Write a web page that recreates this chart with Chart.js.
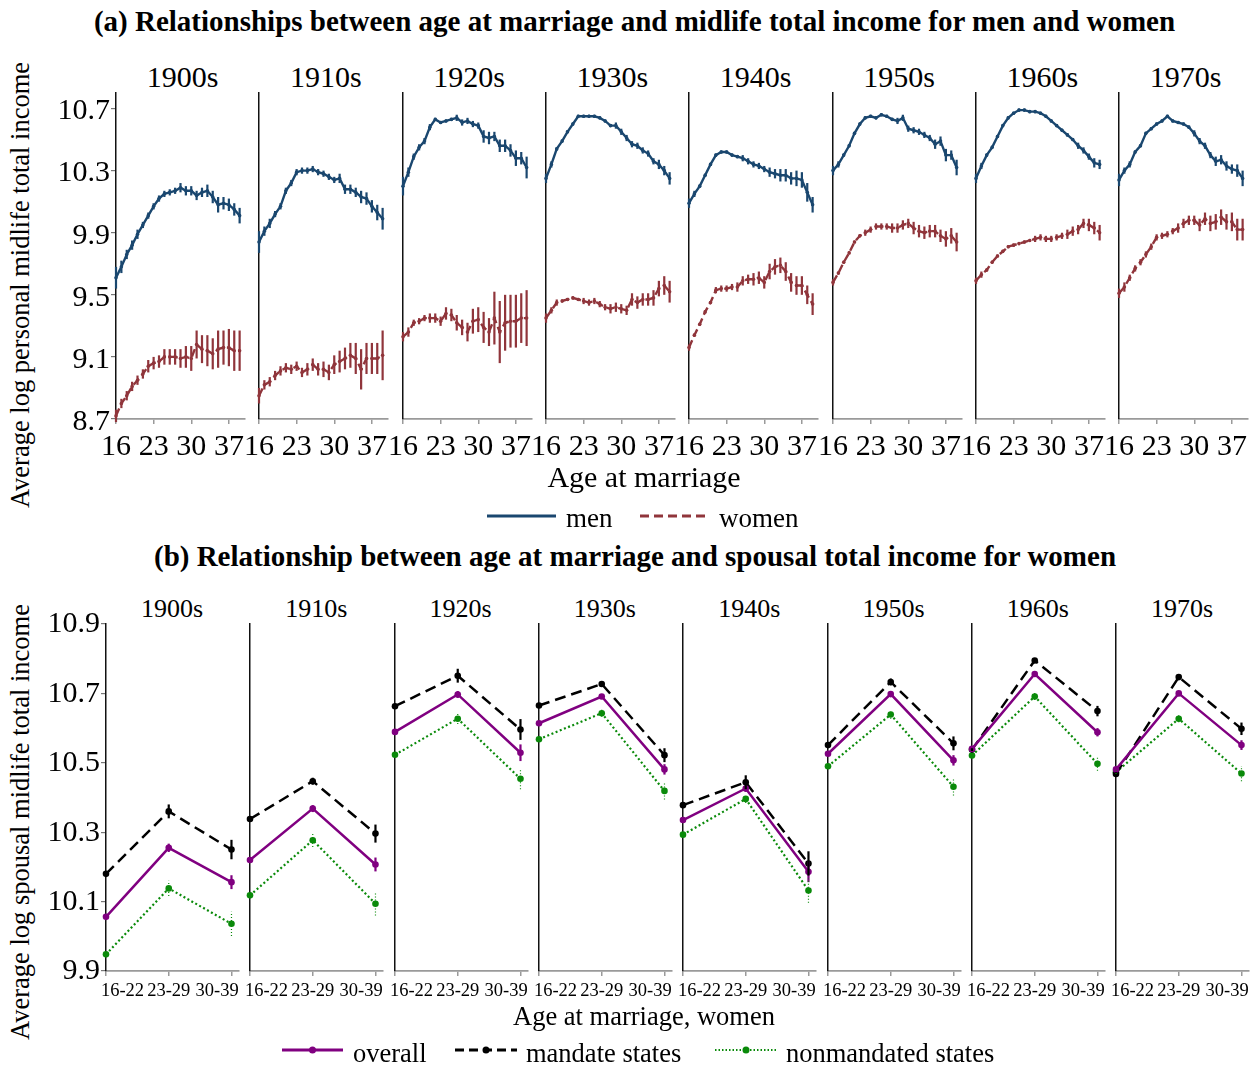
<!DOCTYPE html>
<html>
<head>
<meta charset="utf-8">
<script src="https://cdn.jsdelivr.net/npm/chart.js@4.4.1/dist/chart.umd.min.js"></script>
<style>
  body { margin: 0; background: #fff; }
  #page { position: relative; width: 1256px; height: 1068px; background: #fff; overflow: hidden; font-family: "Liberation Serif", "Times New Roman", serif; color: #000; }
  #page canvas { position: absolute; }
  .txt { position: absolute; white-space: nowrap; line-height: 1; transform: translate(-50%, -50%); }
  .lft { position: absolute; white-space: nowrap; line-height: 1; transform: translate(0, -50%); }
</style>
</head>
<body>
<div id="page"></div>
<script>
// ---- data: panel (a) ----
const decades = ['1900s', '1910s', '1920s', '1930s', '1940s', '1950s', '1960s', '1970s'];
const ages = [16, 17, 18, 19, 20, 21, 22, 23, 24, 25, 26, 27, 28, 29, 30, 31, 32, 33, 34, 35, 36, 37, 38, 39];
const topXTicks = [16, 23, 30, 37];
const topYTicks = [8.7, 9.1, 9.5, 9.9, 10.3, 10.7];

const men1900 = [9.61, 9.68, 9.76, 9.82, 9.89, 9.95, 10.01, 10.07, 10.12, 10.15, 10.16, 10.17, 10.19, 10.17, 10.17, 10.14, 10.16, 10.17, 10.13, 10.08, 10.09, 10.08, 10.05, 10.01];
const women1900 = [8.72, 8.80, 8.85, 8.91, 8.95, 8.99, 9.04, 9.06, 9.07, 9.10, 9.10, 9.10, 9.09, 9.10, 9.09, 9.18, 9.15, 9.14, 9.12, 9.15, 9.16, 9.16, 9.14, 9.14];
const men1910 = [9.84, 9.91, 9.96, 10.02, 10.07, 10.17, 10.22, 10.29, 10.30, 10.30, 10.31, 10.29, 10.28, 10.26, 10.24, 10.25, 10.18, 10.18, 10.16, 10.13, 10.12, 10.07, 10.03, 9.99];
const women1910 = [8.85, 8.92, 8.94, 8.98, 9.01, 9.03, 9.02, 9.04, 9.00, 9.02, 9.05, 9.02, 9.02, 9.00, 9.05, 9.07, 9.09, 9.11, 9.09, 9.02, 9.09, 9.09, 9.09, 9.11];
const men1920 = [10.20, 10.29, 10.39, 10.45, 10.49, 10.58, 10.63, 10.61, 10.62, 10.63, 10.64, 10.61, 10.62, 10.60, 10.59, 10.52, 10.51, 10.52, 10.46, 10.46, 10.43, 10.38, 10.38, 10.32];
const women1920 = [9.23, 9.26, 9.32, 9.33, 9.35, 9.35, 9.35, 9.33, 9.38, 9.37, 9.32, 9.29, 9.26, 9.33, 9.34, 9.29, 9.26, 9.35, 9.26, 9.32, 9.33, 9.33, 9.35, 9.35];
const men1930 = [10.25, 10.34, 10.44, 10.49, 10.55, 10.60, 10.65, 10.65, 10.65, 10.65, 10.64, 10.62, 10.59, 10.59, 10.55, 10.51, 10.47, 10.46, 10.43, 10.41, 10.36, 10.34, 10.30, 10.25];
const women1930 = [9.35, 9.40, 9.45, 9.46, 9.47, 9.48, 9.47, 9.46, 9.45, 9.46, 9.44, 9.42, 9.41, 9.42, 9.41, 9.40, 9.47, 9.45, 9.47, 9.47, 9.48, 9.54, 9.56, 9.52];
const men1940 = [10.09, 10.15, 10.20, 10.27, 10.34, 10.40, 10.42, 10.42, 10.40, 10.39, 10.38, 10.36, 10.34, 10.33, 10.31, 10.29, 10.28, 10.27, 10.27, 10.25, 10.25, 10.24, 10.16, 10.08];
const women1940 = [9.16, 9.24, 9.31, 9.39, 9.45, 9.53, 9.54, 9.54, 9.55, 9.55, 9.59, 9.60, 9.60, 9.61, 9.58, 9.65, 9.68, 9.69, 9.65, 9.58, 9.56, 9.56, 9.50, 9.44];
const men1950 = [10.30, 10.34, 10.40, 10.46, 10.54, 10.60, 10.64, 10.65, 10.64, 10.66, 10.65, 10.63, 10.62, 10.64, 10.57, 10.56, 10.55, 10.53, 10.51, 10.47, 10.49, 10.40, 10.40, 10.32];
const women1950 = [9.58, 9.64, 9.71, 9.77, 9.84, 9.88, 9.90, 9.92, 9.94, 9.94, 9.94, 9.93, 9.93, 9.95, 9.96, 9.93, 9.91, 9.90, 9.91, 9.91, 9.88, 9.86, 9.88, 9.84];
const men1960 = [10.25, 10.33, 10.40, 10.45, 10.52, 10.59, 10.64, 10.67, 10.69, 10.69, 10.68, 10.68, 10.67, 10.65, 10.62, 10.59, 10.56, 10.53, 10.50, 10.46, 10.43, 10.39, 10.35, 10.34];
const women1960 = [9.59, 9.63, 9.66, 9.71, 9.75, 9.78, 9.81, 9.82, 9.83, 9.84, 9.85, 9.86, 9.87, 9.86, 9.86, 9.87, 9.88, 9.89, 9.91, 9.92, 9.96, 9.95, 9.93, 9.90];
const men1970 = [10.24, 10.30, 10.34, 10.42, 10.46, 10.54, 10.57, 10.60, 10.62, 10.65, 10.62, 10.61, 10.60, 10.58, 10.54, 10.49, 10.46, 10.40, 10.36, 10.37, 10.33, 10.31, 10.30, 10.25];
const women1970 = [9.51, 9.55, 9.61, 9.67, 9.71, 9.76, 9.81, 9.87, 9.88, 9.89, 9.91, 9.93, 9.96, 9.98, 9.98, 9.95, 9.99, 9.96, 9.97, 10.00, 9.97, 9.97, 9.92, 9.92];

// half-widths of the confidence bars
const menErr1900 = [0.07, 0.04, 0.03, 0.03, 0.03, 0.02, 0.02, 0.02, 0.02, 0.02, 0.02, 0.02, 0.03, 0.03, 0.03, 0.03, 0.03, 0.04, 0.04, 0.05, 0.04, 0.04, 0.04, 0.05];
const womenErr1900 = [0.04, 0.03, 0.03, 0.03, 0.03, 0.03, 0.04, 0.04, 0.04, 0.05, 0.05, 0.05, 0.06, 0.07, 0.08, 0.09, 0.09, 0.10, 0.10, 0.12, 0.11, 0.12, 0.13, 0.13];
const menErr1910 = [0.07, 0.03, 0.03, 0.02, 0.02, 0.02, 0.02, 0.02, 0.02, 0.02, 0.02, 0.02, 0.02, 0.02, 0.02, 0.03, 0.03, 0.03, 0.03, 0.04, 0.04, 0.04, 0.05, 0.07];
const womenErr1910 = [0.05, 0.03, 0.03, 0.03, 0.03, 0.03, 0.03, 0.03, 0.03, 0.04, 0.04, 0.04, 0.05, 0.05, 0.06, 0.07, 0.07, 0.08, 0.10, 0.13, 0.10, 0.10, 0.10, 0.16];
const menErr1920 = [0.06, 0.03, 0.02, 0.02, 0.02, 0.02, 0.01, 0.01, 0.01, 0.01, 0.02, 0.02, 0.02, 0.02, 0.02, 0.04, 0.04, 0.03, 0.04, 0.04, 0.04, 0.05, 0.04, 0.07];
const womenErr1920 = [0.03, 0.03, 0.02, 0.02, 0.02, 0.03, 0.03, 0.03, 0.04, 0.04, 0.05, 0.05, 0.06, 0.08, 0.08, 0.10, 0.09, 0.17, 0.20, 0.18, 0.17, 0.17, 0.16, 0.18];
const menErr1930 = [0.03, 0.02, 0.01, 0.01, 0.01, 0.01, 0.01, 0.01, 0.01, 0.01, 0.01, 0.01, 0.01, 0.02, 0.02, 0.02, 0.02, 0.02, 0.02, 0.02, 0.02, 0.03, 0.03, 0.04];
const womenErr1930 = [0.03, 0.02, 0.02, 0.01, 0.01, 0.01, 0.01, 0.02, 0.02, 0.02, 0.02, 0.02, 0.03, 0.03, 0.03, 0.03, 0.04, 0.04, 0.04, 0.04, 0.05, 0.05, 0.06, 0.07];
const menErr1940 = [0.03, 0.02, 0.01, 0.01, 0.01, 0.01, 0.01, 0.01, 0.01, 0.01, 0.02, 0.02, 0.02, 0.02, 0.02, 0.03, 0.03, 0.04, 0.04, 0.04, 0.05, 0.05, 0.06, 0.05];
const womenErr1940 = [0.02, 0.01, 0.01, 0.01, 0.01, 0.02, 0.02, 0.02, 0.02, 0.03, 0.03, 0.03, 0.04, 0.04, 0.04, 0.05, 0.05, 0.05, 0.06, 0.06, 0.06, 0.06, 0.06, 0.07];
const menErr1950 = [0.03, 0.02, 0.01, 0.01, 0.01, 0.01, 0.01, 0.01, 0.01, 0.01, 0.01, 0.01, 0.02, 0.02, 0.02, 0.02, 0.02, 0.02, 0.02, 0.03, 0.03, 0.04, 0.03, 0.05];
const womenErr1950 = [0.02, 0.01, 0.01, 0.01, 0.01, 0.01, 0.02, 0.02, 0.02, 0.02, 0.02, 0.03, 0.03, 0.03, 0.03, 0.04, 0.04, 0.04, 0.04, 0.04, 0.04, 0.05, 0.05, 0.06];
const menErr1960 = [0.03, 0.02, 0.01, 0.01, 0.01, 0.01, 0.01, 0.01, 0.01, 0.01, 0.01, 0.01, 0.01, 0.01, 0.01, 0.01, 0.01, 0.01, 0.01, 0.02, 0.02, 0.02, 0.03, 0.03];
const womenErr1960 = [0.02, 0.02, 0.01, 0.01, 0.01, 0.01, 0.01, 0.01, 0.01, 0.01, 0.01, 0.02, 0.02, 0.02, 0.02, 0.02, 0.02, 0.03, 0.03, 0.03, 0.03, 0.04, 0.04, 0.05];
const menErr1970 = [0.04, 0.02, 0.02, 0.01, 0.01, 0.01, 0.01, 0.01, 0.01, 0.01, 0.01, 0.01, 0.01, 0.01, 0.02, 0.02, 0.02, 0.02, 0.03, 0.03, 0.03, 0.03, 0.04, 0.05];
const womenErr1970 = [0.03, 0.03, 0.02, 0.02, 0.02, 0.02, 0.02, 0.02, 0.02, 0.02, 0.02, 0.03, 0.03, 0.03, 0.03, 0.04, 0.04, 0.05, 0.05, 0.05, 0.05, 0.06, 0.07, 0.07];

// ---- data: panel (b) ----
const groups = ['16-22', '23-29', '30-39'];
const bottomYTicks = [9.9, 10.1, 10.3, 10.5, 10.7, 10.9];
// one row per decade, 1900s .. 1970s
const overall = [
  [10.056, 10.255, 10.156], [10.220, 10.368, 10.207], [10.589, 10.697, 10.529], [10.614, 10.691, 10.481],
  [10.335, 10.426, 10.186], [10.526, 10.698, 10.507], [10.540, 10.756, 10.588], [10.481, 10.700, 10.551]
];
const mandate = [
  [10.180, 10.360, 10.250], [10.338, 10.447, 10.296], [10.663, 10.751, 10.596], [10.665, 10.727, 10.522],
  [10.378, 10.444, 10.210], [10.551, 10.733, 10.556], [10.538, 10.795, 10.649], [10.468, 10.747, 10.598]
];
const nonmandated = [
  [9.948, 10.138, 10.036], [10.118, 10.277, 10.094], [10.523, 10.627, 10.454], [10.568, 10.643, 10.419],
  [10.293, 10.396, 10.132], [10.490, 10.639, 10.431], [10.521, 10.691, 10.497], [10.473, 10.627, 10.469]
];
const overallErr = [
  [0.006, 0.012, 0.020], [0.006, 0.010, 0.020], [0.005, 0.010, 0.024], [0.004, 0.006, 0.015],
  [0.005, 0.010, 0.030], [0.004, 0.006, 0.015], [0.004, 0.006, 0.012], [0.004, 0.006, 0.014]
];
const mandateErr = [
  [0.008, 0.020, 0.028], [0.006, 0.010, 0.026], [0.006, 0.020, 0.030], [0.005, 0.006, 0.020],
  [0.006, 0.020, 0.035], [0.005, 0.010, 0.020], [0.004, 0.006, 0.015], [0.005, 0.008, 0.018]
];
const nonmandatedErr = [
  [0.008, 0.022, 0.035], [0.007, 0.020, 0.034], [0.006, 0.015, 0.030], [0.005, 0.010, 0.025],
  [0.006, 0.012, 0.035], [0.005, 0.012, 0.025], [0.004, 0.010, 0.020], [0.005, 0.010, 0.022]
];

const menSeries = [men1900, men1910, men1920, men1930, men1940, men1950, men1960, men1970];
const womenSeries = [women1900, women1910, women1920, women1930, women1940, women1950, women1960, women1970];
const menErrs = [menErr1900, menErr1910, menErr1920, menErr1930, menErr1940, menErr1950, menErr1960, menErr1970];
const womenErrs = [womenErr1900, womenErr1910, womenErr1920, womenErr1930, womenErr1940, womenErr1950, womenErr1960, womenErr1970];

const NAVY = '#1a476f', MAROON = '#90353b', PURPLE = '#800080', GREEN = '#0a8a0a';
const FONT = '"Liberation Serif", "Times New Roman", serif';
const page = document.getElementById('page');

// vertical confidence bars, drawn through the chart's own scales
const errorBars = {
  id: 'errorBars',
  afterDatasetsDraw(chart) {
    const ctx = chart.ctx, xs = chart.scales.x, ys = chart.scales.y;
    chart.data.datasets.forEach(ds => {
      if (!ds.errors) return;
      ctx.save();
      ctx.strokeStyle = ds.errColor || ds.borderColor;
      ctx.lineWidth = ds.errWidth || 2;
      ctx.setLineDash(ds.errDash || []);
      ds.data.forEach((p, i) => {
        const e = ds.errors[i];
        const x = xs.getPixelForValue(p.x);
        ctx.beginPath();
        ctx.moveTo(x, ys.getPixelForValue(p.y - e));
        ctx.lineTo(x, ys.getPixelForValue(p.y + e));
        ctx.stroke();
      });
      ctx.restore();
    });
  }
};

// age-group labels of panel (b): the outer two are pulled in towards the middle, like the original
const GROUP_SHIFT = [16.5, 0, -14.3];
const groupLabels = {
  id: 'groupLabels',
  afterDraw(chart) {
    const xs = chart.scales.x, ctx = chart.ctx;
    ctx.save();
    ctx.font = '18.5px ' + FONT;
    ctx.fillStyle = '#000';
    ctx.textAlign = 'center';
    ctx.textBaseline = 'middle';
    groups.forEach((g, i) => {
      ctx.fillText(g, xs.getPixelForValue(i) + GROUP_SHIFT[i], xs.top + 20.5);
    });
    ctx.restore();
  }
};

function text(str, x, y, size, extra) {
  const d = document.createElement('div');
  d.className = 'txt';
  d.textContent = str;
  d.style.left = x + 'px';
  d.style.top = y + 'px';
  d.style.fontSize = size + 'px';
  if (extra) Object.assign(d.style, extra);
  page.appendChild(d);
  return d;
}

function leftText(str, x, y, size) {
  const d = document.createElement('div');
  d.className = 'lft';
  d.textContent = str;
  d.style.left = x + 'px';
  d.style.top = y + 'px';
  d.style.fontSize = size + 'px';
  page.appendChild(d);
}

function swatch(x1, x2, y, color, width, dash, dot) {
  const svg = '<svg width="' + (x2 - x1 + 10) + '" height="14" xmlns="http://www.w3.org/2000/svg">' +
    '<line x1="5" y1="7" x2="' + (x2 - x1 + 5) + '" y2="7" stroke="' + color + '" stroke-width="' + width + '"' +
    (dash ? ' stroke-dasharray="' + dash + '"' : '') + '/>' +
    (dot ? '<circle cx="' + ((x2 - x1) / 2 + 5) + '" cy="7" r="3.5" fill="' + color + '"/>' : '') + '</svg>';
  const d = document.createElement('div');
  d.style.position = 'absolute';
  d.style.left = (x1 - 5) + 'px';
  d.style.top = (y - 7) + 'px';
  d.style.lineHeight = '0';
  d.innerHTML = svg;
  page.appendChild(d);
}

function makeCanvas(left, top, w, h) {
  const c = document.createElement('canvas');
  c.width = w; c.height = h;
  c.style.left = left + 'px';
  c.style.top = top + 'px';
  page.appendChild(c);
  return c;
}

// top padding is large enough that the tick labels of the first panel do not shrink its plot area
const Y_AREA = 70, PAD_TOP = 24, PAD_RIGHT = 20;

function panelChart(canvas, datasets, o) {
  return new Chart(canvas, {
    type: 'line',
    data: { datasets: datasets },
    options: {
      responsive: false,
      animation: false,
      devicePixelRatio: 1,
      layout: { padding: { top: PAD_TOP, right: PAD_RIGHT, left: 0, bottom: 0 } },
      plugins: { legend: { display: false }, tooltip: { enabled: false } },
      scales: {
        x: {
          type: 'linear', min: o.xMin, max: o.xMax,
          afterBuildTicks: s => { s.ticks = o.xTicks.map(v => ({ value: v })); },
          afterFit: s => { s.height = o.xHeight; },
          grid: { drawOnChartArea: false, drawTicks: true, tickLength: 5, color: '#9a9a9a', lineWidth: 1.5 },
          border: { color: '#9a9a9a', width: 1.8 },
          ticks: { display: o.xShow, color: '#000', font: { family: FONT, size: o.xFont }, padding: o.xPad,
                   maxRotation: 0, minRotation: 0, autoSkip: false, callback: o.xLabel }
        },
        y: {
          type: 'linear', min: o.yMin, max: o.yMax,
          afterBuildTicks: s => { s.ticks = o.yTicks.map(v => ({ value: v })); },
          afterFit: s => { s.width = Y_AREA; },
          grid: { display: o.first, drawOnChartArea: false, drawTicks: true, tickLength: 5, color: '#777', lineWidth: 1.2 },
          border: { color: '#111', width: 1.5 },
          ticks: { display: o.first, color: '#000', font: { family: FONT, size: 30 }, padding: 1,
                   labelOffset: o.yLabelOffset, callback: v => v.toFixed(1) }
        }
      }
    },
    plugins: o.extraPlugins
  });
}

// ---- panel (a) ----
const TOP_LEFT = 116, TOP_STEP = 143.3, TOP_W = 129, TOP_PLOT_TOP = 92.7, TOP_H = 326;
text('(a) Relationships between age at marriage and midlife total income for men and women', 634.5, 21, 29, { fontWeight: 'bold' });

decades.forEach((dec, k) => {
  const left = TOP_LEFT + k * TOP_STEP;
  text(dec, left + TOP_W / 2 + 2, 77, 30);
  const cv = makeCanvas(left - Y_AREA, TOP_PLOT_TOP - PAD_TOP, Y_AREA + TOP_W + PAD_RIGHT, PAD_TOP + TOP_H + 50);
  const ds = [
    { label: 'men', data: ages.map((a, i) => ({ x: a, y: menSeries[k][i] })), errors: menErrs[k],
      borderColor: NAVY, backgroundColor: NAVY, borderWidth: 2.4, pointRadius: 1.8, pointBorderWidth: 0,
      pointBackgroundColor: NAVY, errWidth: 2.2, clip: false },
    { label: 'women', data: ages.map((a, i) => ({ x: a, y: womenSeries[k][i] })), errors: womenErrs[k],
      borderColor: MAROON, backgroundColor: MAROON, borderWidth: 2.4, borderDash: [8, 4], pointRadius: 1.8,
      pointBorderWidth: 0, pointBackgroundColor: MAROON, errWidth: 2.2, clip: false }
  ];
  panelChart(cv, ds, {
    first: k === 0, xMin: 16, xMax: 40, xTicks: topXTicks, xHeight: 50, xShow: true, xFont: 30, xPad: 5.5,
    xLabel: v => String(v), yMin: 8.7, yMax: 10.8, yTicks: topYTicks, yLabelOffset: 3,
    extraPlugins: [errorBars]
  });
});

text('Age at marriage', 644, 477, 30);
text('Average log personal midlife total income', 20, 285, 26.5, { transform: 'translate(-50%, -50%) rotate(-90deg)' });
swatch(487, 556, 516, NAVY, 3, null, false);
leftText('men', 566, 518, 27);
swatch(640, 707, 516, MAROON, 3, '9 5', false);
leftText('women', 719, 518, 27);

// ---- panel (b) ----
const BOT_LEFT = 106, BOT_STEP = 144.3, BOT_W = 133, BOT_PLOT_TOP = 624.3, BOT_H = 347;
text('(b) Relationship between age at marriage and spousal total income for women', 635, 556, 29, { fontWeight: 'bold' });

decades.forEach((dec, k) => {
  const left = BOT_LEFT + k * BOT_STEP;
  text(dec, left + 66, 609, 26);
  const cv = makeCanvas(left - Y_AREA, BOT_PLOT_TOP - PAD_TOP, Y_AREA + BOT_W + PAD_RIGHT, PAD_TOP + BOT_H + 40);
  const pts = vals => groups.map((g, i) => ({ x: i, y: vals[i] }));
  const ds = [
    { label: 'overall', data: pts(overall[k]), errors: overallErr[k], borderColor: PURPLE, backgroundColor: PURPLE,
      borderWidth: 2.5, pointRadius: 3.3, pointBorderWidth: 0, pointBackgroundColor: PURPLE, errWidth: 2.2, clip: false },
    { label: 'mandate states', data: pts(mandate[k]), errors: mandateErr[k], borderColor: '#000', backgroundColor: '#000',
      borderWidth: 2.5, borderDash: [11, 6], pointRadius: 3.3, pointBorderWidth: 0, pointBackgroundColor: '#000', errWidth: 2.2, clip: false },
    { label: 'nonmandated states', data: pts(nonmandated[k]), errors: nonmandatedErr[k], borderColor: GREEN, backgroundColor: GREEN,
      borderWidth: 2.2, borderDash: [2, 2.5], pointRadius: 3.3, pointBorderWidth: 0, pointBackgroundColor: GREEN,
      errWidth: 1.2, errDash: [1, 2], clip: false }
  ];
  panelChart(cv, ds, {
    first: k === 0, xMin: 0, xMax: 2.12, xTicks: [0, 1, 2], xHeight: 40, xShow: false, xFont: 18.5, xPad: 5,
    xLabel: v => groups[v], yMin: 9.9, yMax: 10.9, yTicks: bottomYTicks, yLabelOffset: 0.5,
    extraPlugins: [errorBars, groupLabels]
  });
});

text('Age at marriage, women', 644, 1015.5, 26.5);
text('Average log spousal midlife total income', 20, 822, 26.5, { transform: 'translate(-50%, -50%) rotate(-90deg)' });
swatch(282, 343, 1050, PURPLE, 3, null, true);
leftText('overall', 353, 1052.5, 26.5);
swatch(455, 517, 1050, '#000', 3, '9 5', true);
leftText('mandate states', 526, 1052.5, 26.5);
swatch(715, 777, 1050, GREEN, 2, '1.5 2', true);
leftText('nonmandated states', 786, 1052.5, 26.5);
</script>
</body>
</html>
